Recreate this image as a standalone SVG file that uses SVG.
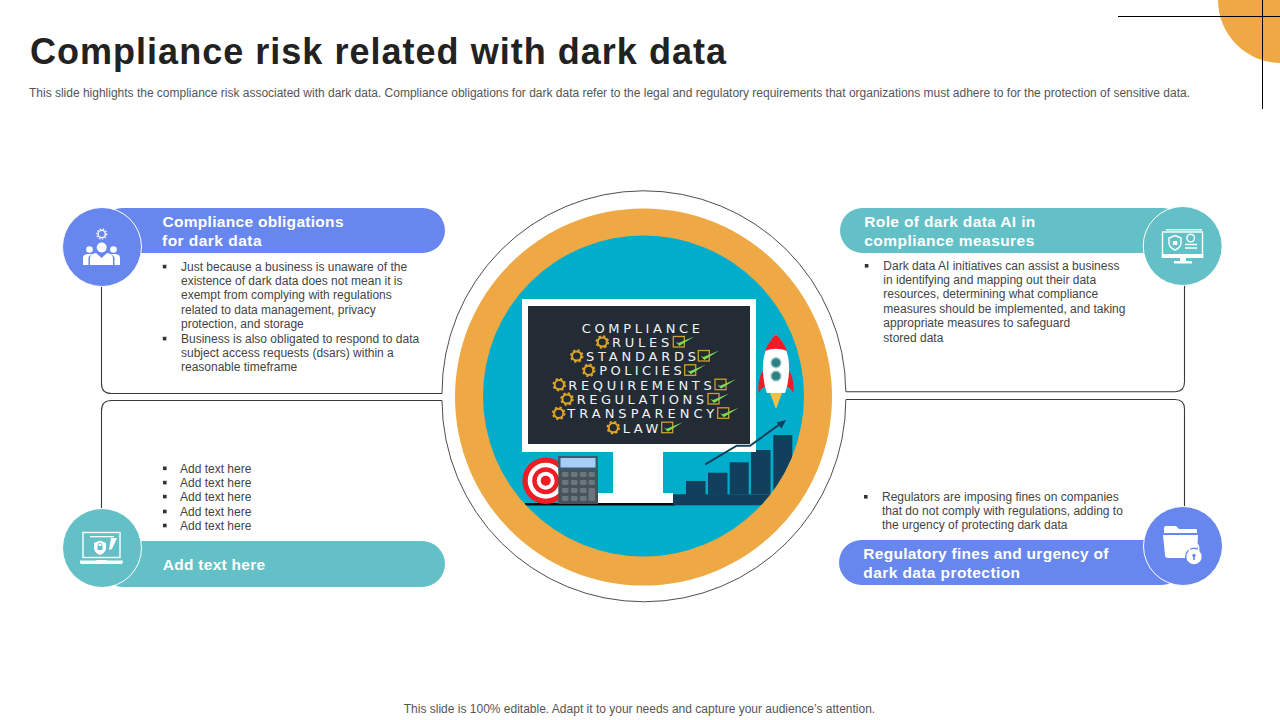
<svg xmlns="http://www.w3.org/2000/svg" xmlns:xlink="http://www.w3.org/1999/xlink" width="1280" height="720" viewBox="0 0 1280 720">
<style>
text{font-family:"Liberation Sans",Arial,sans-serif}
.title{font-size:36px;font-weight:700;fill:#222}
.sub{font-size:12px;fill:#555}
.body{font-size:12px;fill:#444}
.head{font-size:15.5px;font-weight:700;fill:#fff}
.panel{font-family:"DejaVu Sans",sans-serif;font-size:13px;fill:#f1f3f4}
.bul{fill:#333}
.line{fill:none;stroke:#3a3a3a;stroke-width:1.1}
.blue{fill:#6787ef}
.teal{fill:#63c0c6}
.ring{stroke:#fff;stroke-width:1}
.w{fill:#fff}
.ws{fill:none;stroke:#fff;stroke-width:1.4}
.box{fill:none;stroke:#cf9f2c;stroke-width:1.3}
.bar{fill:#123f5c}
.key{fill:#6b757c}
</style>
<defs>
<g id="gear"><circle r="4.6" fill="none" stroke="#e0a526" stroke-width="2"/><circle r="6" fill="none" stroke="#e0a526" stroke-width="1.6" stroke-dasharray="2.36 2.36"/></g>
<path id="chk" d="M2.5 5.5L5 6.5L21 0L6 9.5Z" fill="#7edb5a"/>
<rect id="bl" width="3.6" height="3.6" class="bul"/>
<clipPath id="tealclip"><circle cx="643.5" cy="396" r="160.5"/></clipPath>
</defs>
<rect width="1280" height="720" fill="#fff"/>

<g id="corner">
<circle cx="1281" cy="0" r="63" fill="#eea844"/>
<path d="M1118 16.500H1280M1262.500 0V109" fill="none" stroke="#000" stroke-width="1"/>
</g>

<g id="header">
<text class="title" x="30" y="64" textLength="696">Compliance risk related with dark data</text>
<text class="sub" x="29" y="97" textLength="1161">This slide highlights the compliance risk associated with dark data. Compliance obligations for dark data refer to the legal and regulatory requirements that organizations must adhere to for the protection of sensitive data.</text>
</g>

<g id="connectors">
<path class="line" d="M101.500 284V383.500Q101.500 393.500 111.500 393.500H442"/>
<path class="line" d="M101.500 510V410.500Q101.500 400.500 111.500 400.500H442"/>
<path class="line" d="M1184.500 284V382Q1184.500 391.700 1175 391.700H846"/>
<path class="line" d="M1184.500 508V409Q1184.500 399.500 1175 399.500H846"/>
<path fill="none" stroke="#3a3a3a" stroke-width="0.9" d="M442 393.500A201.500 201.500 0 0 1 845.800 391.700M845.800 399.500A201.500 201.500 0 0 1 442 400.500"/>
</g>

<g id="center">
<circle cx="643.500" cy="397" r="188.500" fill="#eea844"/>
<circle cx="643.500" cy="396" r="160.500" fill="#00aecb"/>
<g clip-path="url(#tealclip)">
<rect x="525" y="503" width="150" height="2.500" fill="#0a0a0a"/>
<rect x="613" y="450" width="50" height="44" fill="#fff"/>
<rect x="585" y="493" width="88" height="10" fill="#fff"/>
<g class="bar">
<rect class="bar" x="686" y="481" width="19.500" height="14"/>
<rect class="bar" x="708" y="472.700" width="19.500" height="22"/>
<rect class="bar" x="729.700" y="462.300" width="19" height="32"/>
<rect class="bar" x="751" y="450" width="19.500" height="44"/>
<rect class="bar" x="773.300" y="435" width="19" height="60"/>
<rect class="bar" x="673" y="494.300" width="120" height="11"/>
</g>
</g>
<rect x="522" y="299" width="234" height="153" fill="#fff"/>
<rect x="528" y="306" width="222" height="138" fill="#232b35"/>
<rect x="613" y="450" width="50" height="3" fill="#fff"/>
<path d="M705.300 464.300L736.700 445.700H750L783 422" fill="none" stroke="#123f5c" stroke-width="2"/>
<path d="M786 420L776.500 422.500L781.500 428.500Z" fill="#123f5c"/>
<text class="panel" x="581.700" y="333" textLength="118.300">COMPLIANCE</text>
<text class="panel" x="612" y="347" textLength="57.300">RULES</text>
<text class="panel" x="586" y="361" textLength="110">STANDARDS</text>
<text class="panel" x="599.300" y="375.300" textLength="82.400">POLICIES</text>
<text class="panel" x="568.300" y="389.700" textLength="143.400">REQUIREMENTS</text>
<text class="panel" x="576.700" y="404" textLength="127.300">REGULATIONS</text>
<text class="panel" x="567.300" y="418.300" textLength="147">TRANSPARENCY</text>
<text class="panel" x="622.700" y="432.700" textLength="35.600">LAW</text>
<use href="#gear" x="602.300" y="342"/>
<use href="#gear" x="576.700" y="356"/>
<use href="#gear" x="588.700" y="370.300"/>
<use href="#gear" x="559.300" y="384.700"/>
<use href="#gear" x="567" y="399"/>
<use href="#gear" x="558.700" y="413.300"/>
<use href="#gear" x="613.300" y="427.700"/>
<rect class="box" x="673.300" y="336.500" width="11" height="10.500"/><use href="#chk" x="673.300" y="336.500"/>
<rect class="box" x="698.300" y="350.500" width="11" height="10.500"/><use href="#chk" x="698.300" y="350.500"/>
<rect class="box" x="684.700" y="364.800" width="11" height="10.500"/><use href="#chk" x="684.700" y="364.800"/>
<rect class="box" x="715" y="379.200" width="11" height="10.500"/><use href="#chk" x="715" y="379.200"/>
<rect class="box" x="708" y="393.500" width="11" height="10.500"/><use href="#chk" x="708" y="393.500"/>
<rect class="box" x="717.700" y="407.800" width="11" height="10.500"/><use href="#chk" x="717.700" y="407.800"/>
<rect class="box" x="661.700" y="422.200" width="11" height="10.500"/><use href="#chk" x="661.700" y="422.200"/>
<!-- rocket -->
<path d="M764 369C759 375 758 385 758.500 393C760 390 763 387 766 386Z" fill="#ee1c25"/>
<path d="M788 369C793 375 794 385 793.500 393C792 390 789 387 786 386Z" fill="#ee1c25"/>
<path d="M770 393H782L776 409Z" fill="#f5c04a"/>
<path d="M776 334C786 344 790 358 789 372C788.500 380 787 388 785 393H767C765 388 763.500 380 763 372C762 358 766 344 776 334Z" fill="#fff"/>
<path d="M776 334C781 339 785 345 787 351C780 348 772 348 765 351C767 345 771 339 776 334Z" fill="#ee1c25"/>
<circle cx="776" cy="362.700" r="5" fill="#2e7f85" stroke="#9fcfc8" stroke-width="1.400"/>
<circle cx="776" cy="376" r="5" fill="#2e7f85" stroke="#9fcfc8" stroke-width="1.400"/>
<!-- target -->
<circle cx="545.700" cy="480.700" r="23.300" fill="#ee1c25"/>
<circle cx="545.700" cy="480.700" r="18" fill="#fff"/>
<circle cx="545.700" cy="480.700" r="13.500" fill="#ee1c25"/>
<circle cx="545.700" cy="480.700" r="9" fill="#fff"/>
<circle cx="545.700" cy="480.700" r="5" fill="#ee1c25"/>
<!-- calculator -->
<rect x="558.300" y="456" width="39.700" height="48" fill="#46525c"/>
<rect x="558.300" y="456" width="39.700" height="14" fill="#3b5a70"/>
<rect x="560.500" y="458" width="35" height="9.500" fill="#a8cdf6"/>
<g class="key">
<rect class="key" x="562" y="472" width="6.500" height="5" rx="1"/><rect class="key" x="571" y="472" width="6.500" height="5" rx="1"/><rect class="key" x="580" y="472" width="6.500" height="5" rx="1"/><rect class="key" x="588.500" y="472" width="6.500" height="5" rx="1"/>
<rect class="key" x="562" y="480" width="6.500" height="5" rx="1"/><rect class="key" x="571" y="480" width="6.500" height="5" rx="1"/><rect class="key" x="580" y="480" width="6.500" height="5" rx="1"/><rect class="key" x="588.500" y="480" width="6.500" height="5" rx="1"/>
<rect class="key" x="562" y="488" width="6.500" height="5" rx="1"/><rect class="key" x="571" y="488" width="6.500" height="5" rx="1"/><rect class="key" x="580" y="488" width="6.500" height="5" rx="1"/><rect class="key" x="588.500" y="488" width="6.500" height="13" rx="1"/>
<rect class="key" x="562" y="496" width="6.500" height="5" rx="1"/><rect class="key" x="571" y="496" width="6.500" height="5" rx="1"/><rect class="key" x="580" y="496" width="6.500" height="5" rx="1"/>
</g>
</g>

<g id="node-obligations">
<rect class="blue" x="100" y="208" width="345" height="45" rx="22.500"/>
<circle class="blue ring" cx="102" cy="247" r="39.500"/>
<g class="w">
<circle cx="101.700" cy="247.500" r="5"/><path d="M90 265V258Q90 254 96 253L101.700 258L107 253Q113 254 113 258V265Z"/>
<circle cx="89.500" cy="249.500" r="3.300"/><circle cx="113.500" cy="249.500" r="3.300"/>
<path d="M83 265V258Q83 254.500 87 254H92L88.500 257V265Z"/><path d="M120 265V258Q120 254.500 116 254H111L114.500 257V265Z"/>
</g>
<circle cx="101.700" cy="234" r="3.600" fill="none" stroke="#fff" stroke-width="1.300"/>
<circle cx="101.700" cy="234" r="5" fill="none" stroke="#fff" stroke-width="1.200" stroke-dasharray="1.500 1.500"/>
<text class="head" x="162.500" y="227" textLength="181">Compliance obligations</text>
<text class="head" x="162" y="246" textLength="99.500">for dark data</text>
<use href="#bl" x="162.800" y="264.800"/>
<use href="#bl" x="162.800" y="336.800"/>
<text class="body" x="181" y="271">Just because a business is unaware of the</text>
<text class="body" x="181" y="285">existence of dark data does not mean it is</text>
<text class="body" x="181" y="299.300">exempt from complying with regulations</text>
<text class="body" x="181" y="314">related to data management, privacy</text>
<text class="body" x="181" y="328">protection, and storage</text>
<text class="body" x="181" y="343">Business is also obligated to respond to data</text>
<text class="body" x="181" y="357">subject access requests (dsars) within a</text>
<text class="body" x="181" y="371">reasonable timeframe</text>
</g>

<g id="node-role">
<rect class="teal" x="840" y="208" width="345" height="45" rx="22.500"/>
<circle class="teal ring" cx="1182.700" cy="246" r="39.500"/>
<rect x="1166" y="229" width="36" height="1.500" class="w"/>
<rect class="ws" x="1162.500" y="232" width="40" height="24"/>
<path class="w" d="M1161.700 254H1203.300V258H1186V261H1192V263.500H1174V261H1180V258H1161.700Z"/>
<path class="ws" d="M1175 235.500L1181 238V243Q1181 247.500 1175 250Q1169 247.500 1169 243V238Z"/>
<rect class="w" x="1172.800" y="241" width="4.500" height="4"/>
<circle class="ws" cx="1190.700" cy="238" r="3.800"/>
<path class="ws" d="M1185 244.500H1197M1185 248H1197"/>
<text class="head" x="864.300" y="227" textLength="171">Role of dark data AI in</text>
<text class="head" x="864.300" y="246" textLength="170">compliance measures</text>
<use href="#bl" x="864.800" y="264"/>
<text class="body" x="883.300" y="270">Dark data AI initiatives can assist a business</text>
<text class="body" x="883.300" y="284">in identifying and mapping out their data</text>
<text class="body" x="883.300" y="298.300">resources, determining what compliance</text>
<text class="body" x="883.300" y="312.700">measures should be implemented, and taking</text>
<text class="body" x="883.300" y="327">appropriate measures to safeguard</text>
<text class="body" x="883.300" y="342">stored data</text>
</g>

<g id="node-addtext">
<rect class="teal" x="100" y="541" width="345" height="46" rx="23"/>
<circle class="teal ring" cx="102" cy="548" r="39.500"/>
<rect class="ws" x="83" y="532.500" width="37" height="25"/>
<path class="w" d="M80 560.500H96L97 560H106L107 560.500H122.700V562.500Q122.700 564 121 564H82Q80 564 80 562.500Z"/>
<rect class="w" x="90" y="536" width="24" height="1.300"/>
<path class="w" d="M100 540.500L106 543V548Q106 552.500 100 555Q94 552.500 94 548V543Z"/>
<path d="M98.200 546V544.800A1.800 1.800 0 0 1 101.800 544.800V546" fill="none" stroke="#63c0c6" stroke-width="0.900"/>
<rect x="97.500" y="546" width="5" height="4" fill="#63c0c6"/>
<path class="w" d="M111 538H117L112 549L109 550Z"/>
<use href="#bl" x="163" y="466.500"/><use href="#bl" x="163" y="480.800"/><use href="#bl" x="163" y="494.800"/><use href="#bl" x="163" y="509.700"/><use href="#bl" x="163" y="523.700"/>
<text class="body" x="180" y="472.500">Add text here</text>
<text class="body" x="180" y="486.800">Add text here</text>
<text class="body" x="180" y="500.800">Add text here</text>
<text class="body" x="180" y="515.700">Add text here</text>
<text class="body" x="180" y="529.700">Add text here</text>
<text class="head" x="162.700" y="570" textLength="102.500">Add text here</text>
</g>

<g id="node-fines">
<rect class="blue" x="839" y="540" width="345" height="45" rx="22.500"/>
<circle class="blue ring" cx="1183" cy="546" r="39.500"/>
<path class="w" d="M1164 528Q1164 526 1166 526H1176L1179 529H1196Q1197 529 1197 531V533H1164Z"/>
<path class="w" d="M1163 535H1198L1197 553Q1197 558 1193 558H1168Q1165 558 1165 555Z"/>
<circle cx="1194" cy="556.500" r="9" fill="#6787ef"/>
<circle class="w" cx="1194" cy="556.700" r="7.600"/>
<path d="M1189.500 551V547.500A4.500 4.500 0 0 1 1198.500 547.500V551" fill="none" stroke="#fff" stroke-width="1.800"/>
<circle cx="1194" cy="555.500" r="1.700" fill="#6787ef"/>
<rect x="1193.200" y="556" width="1.600" height="4" fill="#6787ef"/>
<use href="#bl" x="864" y="495"/>
<text class="body" x="882" y="501">Regulators are imposing fines on companies</text>
<text class="body" x="882" y="515.300">that do not comply with regulations, adding to</text>
<text class="body" x="882" y="529.300">the urgency of protecting dark data</text>
<text class="head" x="863.300" y="559" textLength="245">Regulatory fines and urgency of</text>
<text class="head" x="863.300" y="578" textLength="156.700">dark data protection</text>
</g>

<text class="sub" x="639.500" y="713" text-anchor="middle">This slide is 100% editable. Adapt it to your needs and capture your audience’s attention.</text>
</svg>
